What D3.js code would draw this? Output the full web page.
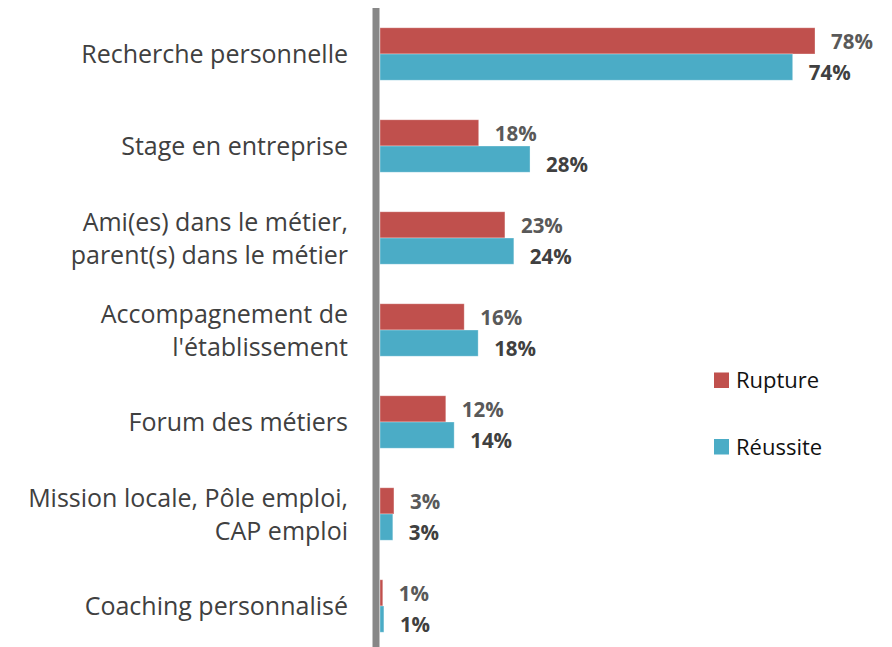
<!DOCTYPE html>
<html>
<head>
<meta charset="utf-8">
<script src="https://cdn.jsdelivr.net/npm/d3@7"></script>
<style>
  body { margin: 0; background: #fff; }
  text { font-family: "Open Sans", sans-serif; }
</style>
</head>
<body>
<div id="chart"></div>
<script>
// categories, top to bottom (each entry = lines of the label)
const categories = [
  ["Recherche personnelle"],
  ["Stage en entreprise"],
  ["Ami(es) dans le métier,", "parent(s) dans le métier"],
  ["Accompagnement de", "l'établissement"],
  ["Forum des métiers"],
  ["Mission locale, Pôle emploi,", "CAP emploi"],
  ["Coaching personnalisé"]
];
const rupture = [78, 17.7, 22.4, 15.1, 11.8, 2.5, 0.5];
const reussite = [74, 26.9, 24, 17.6, 13.3, 2.3, 0.7];
const ruptureLabels = ["78%", "18%", "23%", "16%", "12%", "3%", "1%"];
const reussiteLabels = ["74%", "28%", "24%", "18%", "14%", "3%", "1%"];
const seriesNames = ["Rupture", "Réussite"];
const colors = ["#C0504D", "#4BACC6"];
const labelColors = ["#595959", "#404040"];

const W = 892, H = 647;
const svg = d3.select("#chart").append("svg")
  .attr("width", W).attr("height", H);

const x0 = 380;
const x = d3.scaleLinear().domain([0, 78]).range([x0, 815]);
const y = d3.scaleBand()
  .domain(d3.range(categories.length))
  .range([8, 652])
  .paddingInner(0.43)
  .paddingOuter(0.215);
const sub = d3.scaleBand().domain([0, 1]).range([0, y.bandwidth()]);

const series = [rupture, reussite];
const labels = [ruptureLabels, reussiteLabels];
const labelShift = [8.5, 12.5];

series.forEach((vals, s) => {
  const g = svg.append("g").attr("class", "series-" + s);
  g.selectAll("rect").data(vals).enter().append("rect")
    .attr("x", x0)
    .attr("y", (d, i) => y(i) + sub(s))
    .attr("width", d => x(d) - x0)
    .attr("height", sub.bandwidth())
    .attr("fill", colors[s])
    .attr("stroke", "#fff")
    .attr("stroke-opacity", 0.4)
    .attr("stroke-width", 0.8);
  g.selectAll("text").data(vals).enter().append("text")
    .attr("x", d => x(d) + 16)
    .attr("y", (d, i) => y(i) + sub(s) + sub.bandwidth() / 2 + labelShift[s])
    .attr("font-size", 20.5)
    .attr("font-weight", "bold")
    .attr("fill", labelColors[s])
    .text((d, i) => labels[s][i]);
});

// category labels
const cat = svg.append("g");
categories.forEach((lines, i) => {
  const cy = y(i) + y.bandwidth() / 2;
  const lh = 33;
  lines.forEach((ln, k) => {
    cat.append("text")
      .attr("x", 348)
      .attr("y", cy + (k - (lines.length - 1) / 2) * lh + 9)
      .attr("text-anchor", "end")
      .attr("font-size", 25)
      .attr("fill", "#404040")
      .text(ln);
  });
});

// vertical axis line
svg.append("line")
  .attr("x1", 376).attr("x2", 376)
  .attr("y1", 8).attr("y2", H)
  .attr("stroke", "#878787")
  .attr("stroke-width", 7);

// legend
const legend = svg.append("g");
seriesNames.forEach((n, s) => {
  const ly = 388 + s * 66.5;
  legend.append("rect")
    .attr("x", 714).attr("y", ly - 15.5)
    .attr("width", 15).attr("height", 15.5)
    .attr("fill", colors[s]);
  legend.append("text")
    .attr("x", 736).attr("y", ly)
    .attr("font-size", 22)
    .attr("fill", "#111")
    .text(n);
});
</script>
</body>
</html>
